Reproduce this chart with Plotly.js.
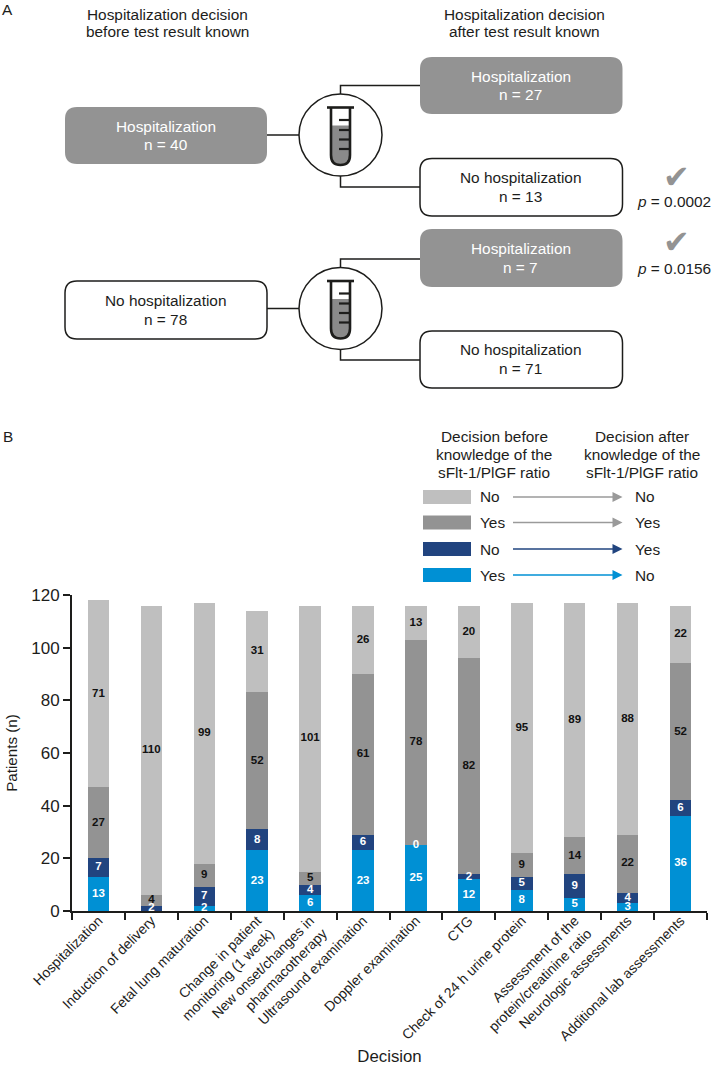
<!DOCTYPE html>
<html>
<head>
<meta charset="utf-8">
<script src="https://cdn.plot.ly/plotly-3.0.1.min.js"></script>
<style>html,body{margin:0;padding:0;background:#fff}#chart{width:713px;height:1066px}</style>
</head>
<body>
<div id="chart"></div>
<script>
var categories = ["Hospitalization","Induction of delivery","Fetal lung maturation",
  "Change in patient<br>monitoring (1 week)","New onset/changes in<br>pharmacotherapy",
  "Ultrasound examination","Doppler examination","CTG","Check of 24 h urine protein",
  "Assessment of the<br>protein/creatinine ratio","Neurologic assessments","Additional lab assessments"];
var yesToNo   = [13,0,2,23,6,23,25,12,8,5,3,36];
var noToYes   = [7,2,7,8,4,6,0,2,5,9,4,6];
var yesToYes  = [27,4,9,52,5,61,78,82,9,14,22,52];
var noToNo    = [71,110,99,31,101,26,13,20,95,89,88,22];
var blankYesToNo = [1];   // Induction of delivery has no printed label for this segment
var W = 713, H = 1066;
var FONT = '"Liberation Sans", Arial, Helvetica, sans-serif';
var INK = '#1d1d1b', C_LIGHT = '#bfbfbf', C_GREY = '#939393', C_NAVY = '#21447f', C_BLUE = '#0090d4';

function px(x){return x/W;} function py(y){return 1-y/H;}
var shapes = [], annotations = [];

function P(x,y){return px(x)+','+py(y);}
function rrect(x0,y0,x1,y1,r,fill,stroke){
  var d='M'+P(x0+r,y0)+' L'+P(x1-r,y0)+' Q'+P(x1,y0)+' '+P(x1,y0+r)+' L'+P(x1,y1-r)+' Q'+P(x1,y1)+' '+P(x1-r,y1)+
        ' L'+P(x0+r,y1)+' Q'+P(x0,y1)+' '+P(x0,y1-r)+' L'+P(x0,y0+r)+' Q'+P(x0,y0)+' '+P(x0+r,y0)+' Z';
  shapes.push({type:'path',xref:'paper',yref:'paper',path:d,fillcolor:fill,line:{color:stroke||fill,width:stroke?1.5:0}});
}
function poly(pts,color,width){
  shapes.push({type:'path',xref:'paper',yref:'paper',
    path:'M'+pts.map(function(p){return P(p[0],p[1]);}).join(' L'),
    line:{color:color,width:width}});
}
function tri(x0,x1,y,h,color){
  shapes.push({type:'path',xref:'paper',yref:'paper',
    path:'M'+P(x0,y-h)+' L'+P(x1,y)+' L'+P(x0,y+h)+' Z',fillcolor:color,line:{width:0}});
}
function label(text,x,y,o){
  o=o||{};
  annotations.push({text:text,xref:'paper',yref:'paper',x:px(x),y:py(y),showarrow:false,
    xanchor:o.anchor||'center',yanchor:'middle',borderpad:0,
    font:{family:o.family||FONT,size:o.size||15.4,color:o.color||INK}});
}
function box(x0,y0,x1,y1,dark,t1,t2){
  rrect(x0,y0,x1,y1,12,dark?C_GREY:'#ffffff',dark?null:INK);
  var cx=(x0+x1)/2 - 0.5, c=dark?'#ffffff':INK;
  label(t1,cx,(y0+y1)/2-9.5,{color:c});
  label(t2,cx,(y0+y1)/2+9,{color:c});
}
function tube(cy){
  var off=cy-135;
  shapes.push({type:'circle',xref:'paper',yref:'paper',x0:px(299),x1:px(382),y0:py(94+off),y1:py(176+off),
    fillcolor:'#ffffff',line:{color:INK,width:1.5}});
  var fill='M'+P(331,125.5+off)+' L'+P(350,125.5+off)+' L'+P(350,155+off)+' Q'+P(350,165+off)+' '+P(340.5,165+off)+
           ' Q'+P(331,165+off)+' '+P(331,155+off)+' Z';
  shapes.push({type:'path',xref:'paper',yref:'paper',path:fill,fillcolor:'#8a8a8a',line:{width:0}});
  var wall='M'+P(331,108+off)+' L'+P(331,155+off)+' Q'+P(331,165+off)+' '+P(340.5,165+off)+
           ' Q'+P(350,165+off)+' '+P(350,155+off)+' L'+P(350,108+off);
  shapes.push({type:'path',xref:'paper',yref:'paper',path:wall,line:{color:INK,width:2.6}});
  poly([[327,107.5+off],[354,107.5+off]],INK,2.6);
  [120,130,139.5,149].forEach(function(y){poly([[339,y+off],[350,y+off]],INK,2.2);});
}

/* Panel A */
label('A',7.5,9,{size:15.4});
label('B',7.5,436,{size:15.4});
label('Hospitalization decision',167,14);
label('before test result known',167,32);
label('Hospitalization decision',524.5,14);
label('after test result known',524.5,32);

poly([[267,135],[300,135]],INK,1.5);
poly([[340.5,95],[340.5,85.5],[420,85.5]],INK,1.5);
poly([[340.5,176],[340.5,187],[420,187]],INK,1.5);
poly([[267,308.5],[300,308.5]],INK,1.5);
poly([[340.5,268],[340.5,259],[420,259]],INK,1.5);
poly([[340.5,350],[340.5,360],[420,360]],INK,1.5);

box(65,107,267,164,true,'Hospitalization','n = 40');
box(65,281,267,339,false,'No hospitalization','n = 78');
box(420,57,622.5,114,true,'Hospitalization','n = 27');
box(420,158.5,622.5,216,false,'No hospitalization','n = 13');
box(420,229,622.5,287,true,'Hospitalization','n = 7');
box(420,331,622.5,388,false,'No hospitalization','n = 71');
tube(135); tube(308.5);

label('\u2714',676,177,{family:'"DejaVu Sans", sans-serif',size:32,color:C_GREY});
label('\u2714',676,242,{family:'"DejaVu Sans", sans-serif',size:32,color:C_GREY});
label('<i>p</i> = 0.0002',712,201.5,{anchor:'right'});
label('<i>p</i> = 0.0156',712,268.5,{anchor:'right'});

/* Panel B legend */
label('Decision before',494,436);
label('knowledge of the',494,454);
label('sFlt-1/PlGF ratio',494,472.5);
label('Decision after',642,436);
label('knowledge of the',642,454);
label('sFlt-1/PlGF ratio',642,472.5);
var legendRows = [
  {c:C_LIGHT,a:'#9a9a9a',l:'No', r:'No', y:497},
  {c:C_GREY, a:'#9a9a9a',l:'Yes',r:'Yes',y:522.5},
  {c:C_NAVY, a:C_NAVY,   l:'No', r:'Yes',y:549},
  {c:C_BLUE, a:C_BLUE,   l:'Yes',r:'No', y:575}
];
legendRows.forEach(function(r){
  shapes.push({type:'rect',xref:'paper',yref:'paper',x0:px(423),x1:px(471),y0:py(r.y-7),y1:py(r.y+7),fillcolor:r.c,line:{width:0}});
  label(r.l,479,r.y,{anchor:'left'});
  poly([[513,r.y],[614,r.y]],r.a,1.6);
  tri(612.5,622.5,r.y,5,r.a);
  label(r.r,634,r.y,{anchor:'left'});
});

/* Panel B segment labels, placed at the middle of each stacked segment */
var series = [
  {name:'Yes \u2192 No',  v:yesToNo,  c:C_BLUE,  t:'#ffffff'},
  {name:'No \u2192 Yes',  v:noToYes,  c:C_NAVY,  t:'#ffffff'},
  {name:'Yes \u2192 Yes', v:yesToYes, c:C_GREY,  t:'#111111'},
  {name:'No \u2192 No',   v:noToNo,   c:C_LIGHT, t:'#111111'}
];
var traces = series.map(function(s){
  return {type:'bar',name:s.name,x:categories,y:s.v,marker:{color:s.c,line:{width:0}},showlegend:false,hoverinfo:'x+y+name'};
});
var base = categories.map(function(){return 0;});
series.forEach(function(s,si){
  var xs=[],ys=[],ts=[];
  s.v.forEach(function(v,i){
    var skip = si===0 && blankYesToNo.indexOf(i)>=0;
    if(!skip){xs.push(categories[i]);ys.push(base[i]+v/2);ts.push(String(v));}
    base[i]+=v;
  });
  traces.push({type:'scatter',mode:'text',x:xs,y:ys,text:ts,textposition:'middle center',cliponaxis:false,
    textfont:{family:FONT,size:11.5,color:s.t,weight:'bold'},showlegend:false,hoverinfo:'skip'});
});

var layout = {
  width:W,height:H,margin:{l:0,r:0,t:0,b:0,pad:0},paper_bgcolor:'#ffffff',plot_bgcolor:'#ffffff',
  font:{family:FONT,color:INK},showlegend:false,barmode:'stack',bargap:0.595,
  shapes:shapes,annotations:annotations,
  xaxis:{domain:[72/W,707/W],type:'category',categoryorder:'array',categoryarray:categories,range:[-0.5,11.5],
    tickson:'boundaries',ticks:'outside',ticklen:7,tickwidth:2,tickcolor:INK,ticklabelstandoff:-6,
    showline:true,linecolor:INK,linewidth:2,showgrid:false,zeroline:false,tickangle:-45,
    tickfont:{family:FONT,size:14,color:INK},automargin:false,
    title:{text:'Decision',font:{family:FONT,size:16.8,color:INK},standoff:30}},
  yaxis:{domain:[1-911/H,1-595/H],range:[0,120],dtick:20,tick0:0,ticks:'outside',ticklen:7,tickwidth:2,tickcolor:INK,
    showline:true,linecolor:INK,linewidth:2,showgrid:false,zeroline:false,
    tickfont:{family:FONT,size:17,color:INK},automargin:false,
    title:{text:'Patients (n)',font:{family:FONT,size:15.2,color:INK},standoff:10}}
};
Plotly.newPlot('chart',traces,layout,{displayModeBar:false,responsive:false});
</script>
</body>
</html>
